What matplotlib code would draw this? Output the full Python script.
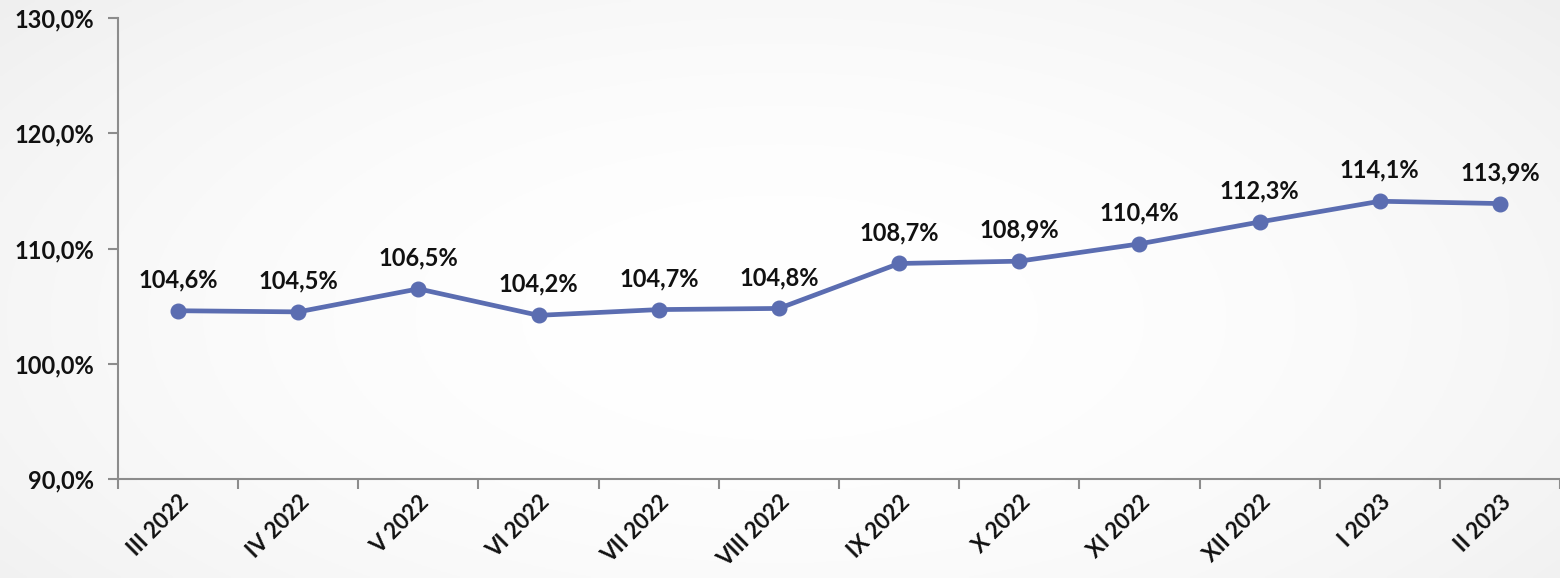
import matplotlib
matplotlib.use("Agg")
import matplotlib.pyplot as plt
import numpy as np

categories = ["III 2022", "IV 2022", "V 2022", "VI 2022", "VII 2022", "VIII 2022",
              "IX 2022", "X 2022", "XI 2022", "XII 2022", "I 2023", "II 2023"]
values = [104.6, 104.5, 106.5, 104.2, 104.7, 104.8, 108.7, 108.9, 110.4, 112.3, 114.1, 113.9]
y_ticks = [90, 100, 110, 120, 130]

plt.rcParams['font.family'] = ['Lato', 'DejaVu Sans']
FS = 17

fig = plt.figure(figsize=(15.6, 5.78), dpi=100)

# background gradient
bg = fig.add_axes([0, 0, 1, 1], zorder=-10)
yy, xx = np.mgrid[0:1:200j, 0:1:400j]
d = np.sqrt(((xx - 0.5) / 0.7) ** 2 + ((yy - 0.55) / 0.9) ** 2)
shade = 1.0 - 0.07 * np.clip(d, 0, 1) ** 2
bg.imshow(np.dstack([shade] * 3), aspect='auto', extent=[0, 1, 0, 1])
bg.axis('off')

ax = fig.add_axes([118 / 1560, 99 / 578, 1 - 118 / 1560, (479 - 18) / 578])
ax.patch.set_alpha(0)

x = np.arange(len(categories))
color = '#5B6DB1'
ax.plot(x, values, color=color, lw=3.4, marker='o', ms=10.5, zorder=3)
for xi, v in zip(x, values):
    ax.annotate(f"{v:.1f}%".replace('.', ','), (xi, v), xytext=(0, 14),
                textcoords='offset points', ha='center', va='bottom',
                fontsize=FS, fontweight='bold', color='#111111')

ax.set_xlim(-0.5, len(categories) - 0.5)
ax.set_ylim(90, 130)
ax.set_yticks(y_ticks)
ax.set_yticklabels([f"{t:.1f}%".replace('.', ',') for t in y_ticks],
                   fontsize=FS, fontweight='bold', color='#111111')
ax.set_xticks(x)
ax.set_xticklabels(categories, rotation=45, ha='right', va='top',
                   rotation_mode='anchor', fontsize=16, fontweight='bold', color='#111111')
ax.set_xticks(np.arange(-0.5, len(categories), 1), minor=True)
ax.tick_params(axis='x', which='major', length=0, pad=9)
ax.tick_params(axis='x', which='minor', length=7, width=1.5, color='#8c8c8c', direction='out')
ax.tick_params(axis='y', which='major', length=7, width=1.5, color='#8c8c8c', pad=10)

for s in ['top', 'right']:
    ax.spines[s].set_visible(False)
for s in ['left', 'bottom']:
    ax.spines[s].set_color('#8c8c8c')
    ax.spines[s].set_linewidth(1.5)

fig.savefig("out.png", dpi=100)
